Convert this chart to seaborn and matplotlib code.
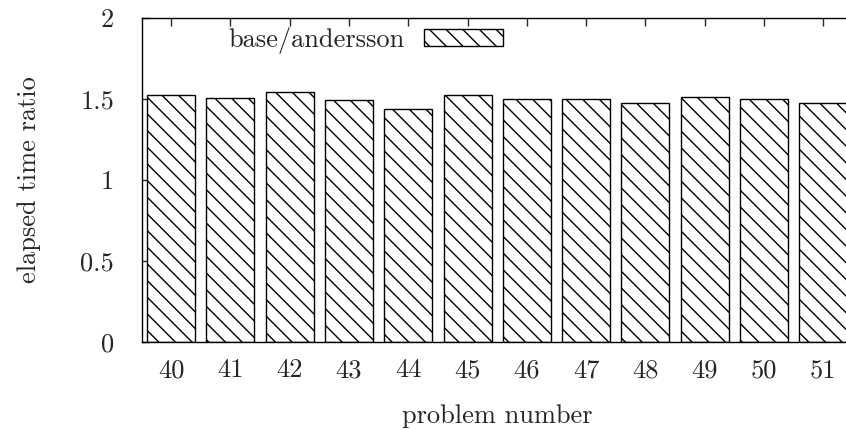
import matplotlib
matplotlib.use("Agg")
import matplotlib.pyplot as plt
import seaborn as sns
import pandas as pd

# problem numbers and elapsed time ratio (base/andersson)
problems = ["40", "41", "42", "43", "44", "45", "46", "47", "48", "49", "50", "51"]
ratios = [1.523, 1.504, 1.541, 1.492, 1.436, 1.523, 1.502, 1.498, 1.473, 1.514, 1.498, 1.473]
series_name = "base/andersson"
y_ticks = [0, 0.5, 1, 1.5, 2]
y_ticklabels = ["0", "0.5", "1", "1.5", "2"]

sns.set_style("ticks")
plt.rcParams["font.family"] = ["cmr10", "DejaVu Serif"]
plt.rcParams["axes.formatter.use_mathtext"] = True
plt.rcParams["hatch.linewidth"] = 1.0

df = pd.DataFrame({"problem": problems, "ratio": ratios})

fig = plt.figure(figsize=(8.46, 4.30), dpi=100)
# right spine sits just past the canvas edge, as in the cropped original
ax = fig.add_axes([142 / 846, 88 / 430, 711 / 846, 324 / 430])

sns.barplot(data=df, x="problem", y="ratio", order=problems, ax=ax,
            color="white", edgecolor="black", linewidth=1.0,
            width=0.81, hatch="\\\\", label=series_name, saturation=1)

ax.set_xlim(-0.49, 11.5)
ax.set_ylim(0, 2)
ax.set_yticks(y_ticks)
ax.set_yticklabels(y_ticklabels)
for sp in ax.spines.values():
    sp.set_visible(True)
    sp.set_linewidth(1.0)
    sp.set_color("black")

ax.tick_params(axis="y", direction="in", length=5, width=1, left=True, right=True,
               labelsize=19, pad=20)
ax.tick_params(axis="x", direction="in", length=6, width=1, bottom=False, top=True,
               labelsize=19, pad=12)
ax.set_xlabel("problem number", fontsize=19, labelpad=16)
ax.set_ylabel("elapsed time ratio", fontsize=19, labelpad=28)

ax.legend(loc="upper left", bbox_to_anchor=(0.095, 1.03), frameon=False,
          markerfirst=False, fontsize=19, handlelength=3.0, handleheight=0.6,
          handletextpad=0.75, borderaxespad=0.3)

fig.savefig("out.png", dpi=100)
